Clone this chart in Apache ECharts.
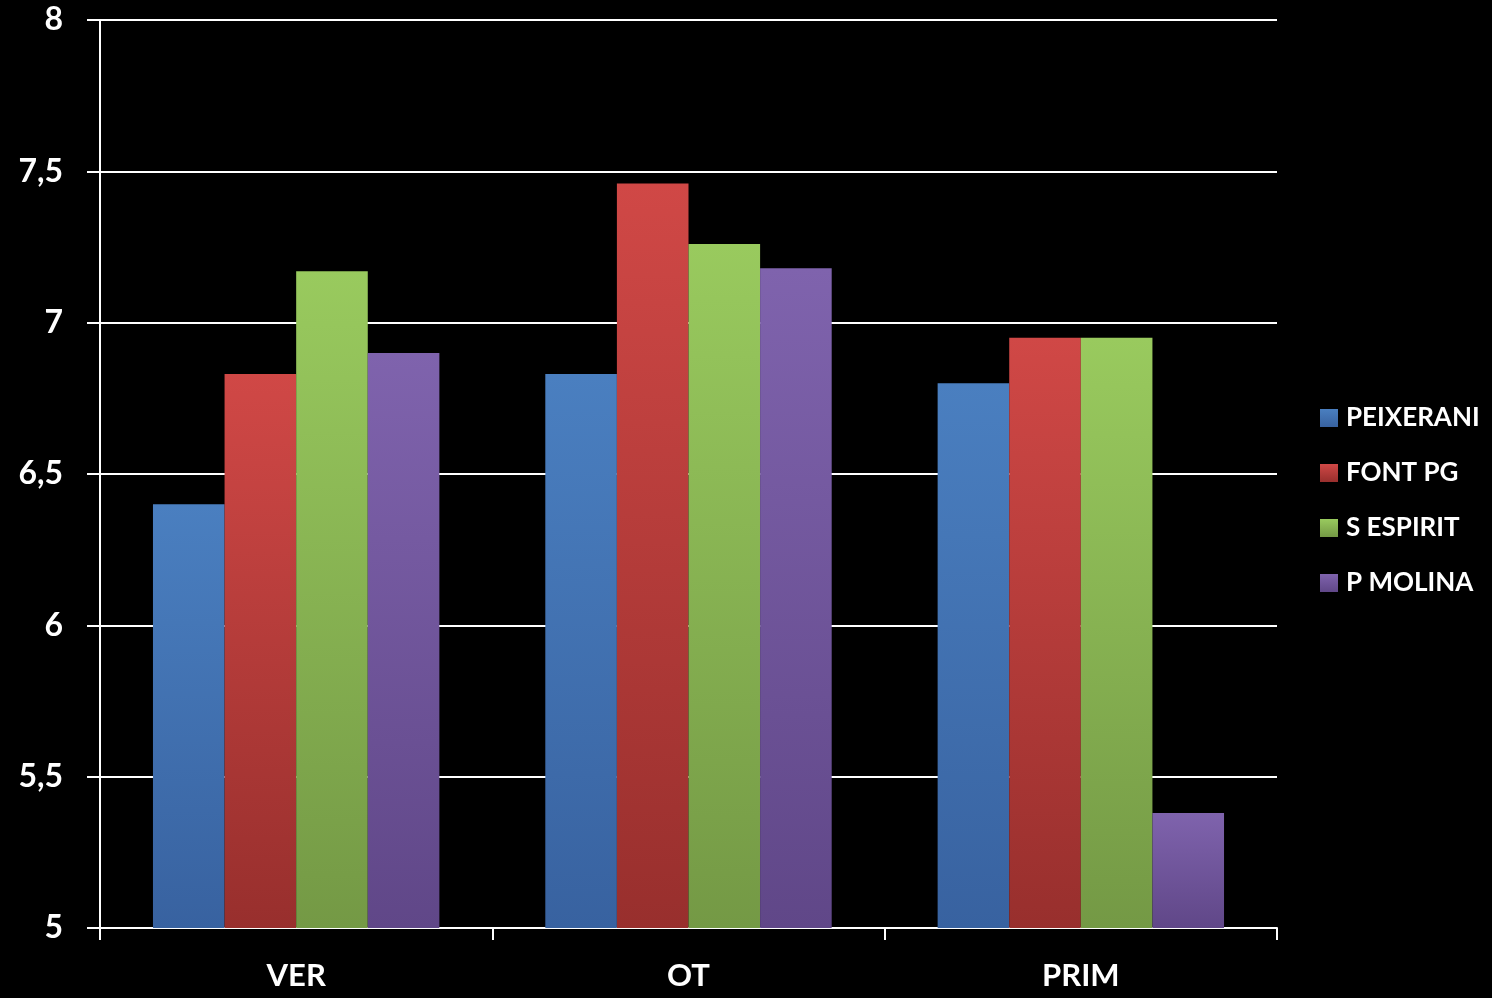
<!DOCTYPE html>
<html>
<head>
<meta charset="utf-8">
<script src="https://cdn.jsdelivr.net/npm/echarts@6/dist/echarts.min.js"></script>
<style>
html,body{margin:0;padding:0;background:#000;}
#chart{width:1492px;height:998px;}
</style>
</head>
<body>
<div id="chart"></div>
<script>
const categories = ['VER', 'OT', 'PRIM'];
const seriesNames = ['PEIXERANI', 'FONT PG', 'S ESPIRIT', 'P MOLINA'];
const peixerani = [6.40, 6.83, 6.80];
const fontPG = [6.83, 7.46, 6.95];
const sEspirit = [7.17, 7.26, 6.95];
const pMolina = [6.90, 7.18, 5.38];
const yTicks = { min: 5, max: 8, interval: 0.5 };

const seriesData = [peixerani, fontPG, sEspirit, pMolina];
const gradients = [
  ['#4a7fc0', '#3862a0'],
  ['#d04846', '#982f2d'],
  ['#99ca5e', '#749945'],
  ['#7f63ad', '#604788']
];
const font = 'Lato, "Open Sans", sans-serif';

const chart = echarts.init(document.getElementById('chart'));
chart.setOption({
  backgroundColor: '#000',
  animation: false,
  grid: { left: 100, right: 215, top: 20, bottom: 70 },
  legend: {
    orient: 'vertical',
    left: 1315,
    top: 398,
    itemWidth: 18,
    itemHeight: 18,
    itemGap: 25,
    icon: 'rect',
    data: seriesNames,
    textStyle: { color: '#fff', fontFamily: font, fontWeight: 'bold', fontSize: 26, lineHeight: 30, padding: [0, 0, 0, 3] }
  },
  xAxis: {
    type: 'category',
    data: categories,
    axisLine: { lineStyle: { color: '#fff', width: 2 } },
    axisTick: { show: true, length: 12, lineStyle: { color: '#fff', width: 2 } },
    axisLabel: { color: '#fff', fontFamily: font, fontWeight: 'bold', fontSize: 31, margin: 32 }
  },
  yAxis: {
    type: 'value',
    min: yTicks.min,
    max: yTicks.max,
    interval: yTicks.interval,
    axisLine: { show: true, lineStyle: { color: '#fff', width: 2 } },
    axisTick: { show: true, length: 13, lineStyle: { color: '#fff', width: 2 } },
    splitLine: { show: true, lineStyle: { color: '#fff', width: 2 } },
    axisLabel: {
      color: '#fff', fontFamily: font, fontWeight: 'bold', fontSize: 32, margin: 37,
      formatter: v => String(v).replace('.', ',')
    }
  },
  series: seriesData.map((d, i) => ({
    name: seriesNames[i],
    type: 'bar',
    data: d,
    barGap: '0%',
    barCategoryGap: '27%',
    itemStyle: {
      color: new echarts.graphic.LinearGradient(0, 0, 0, 1, [
        { offset: 0, color: gradients[i][0] },
        { offset: 1, color: gradients[i][1] }
      ])
    }
  }))
});
</script>
</body>
</html>
